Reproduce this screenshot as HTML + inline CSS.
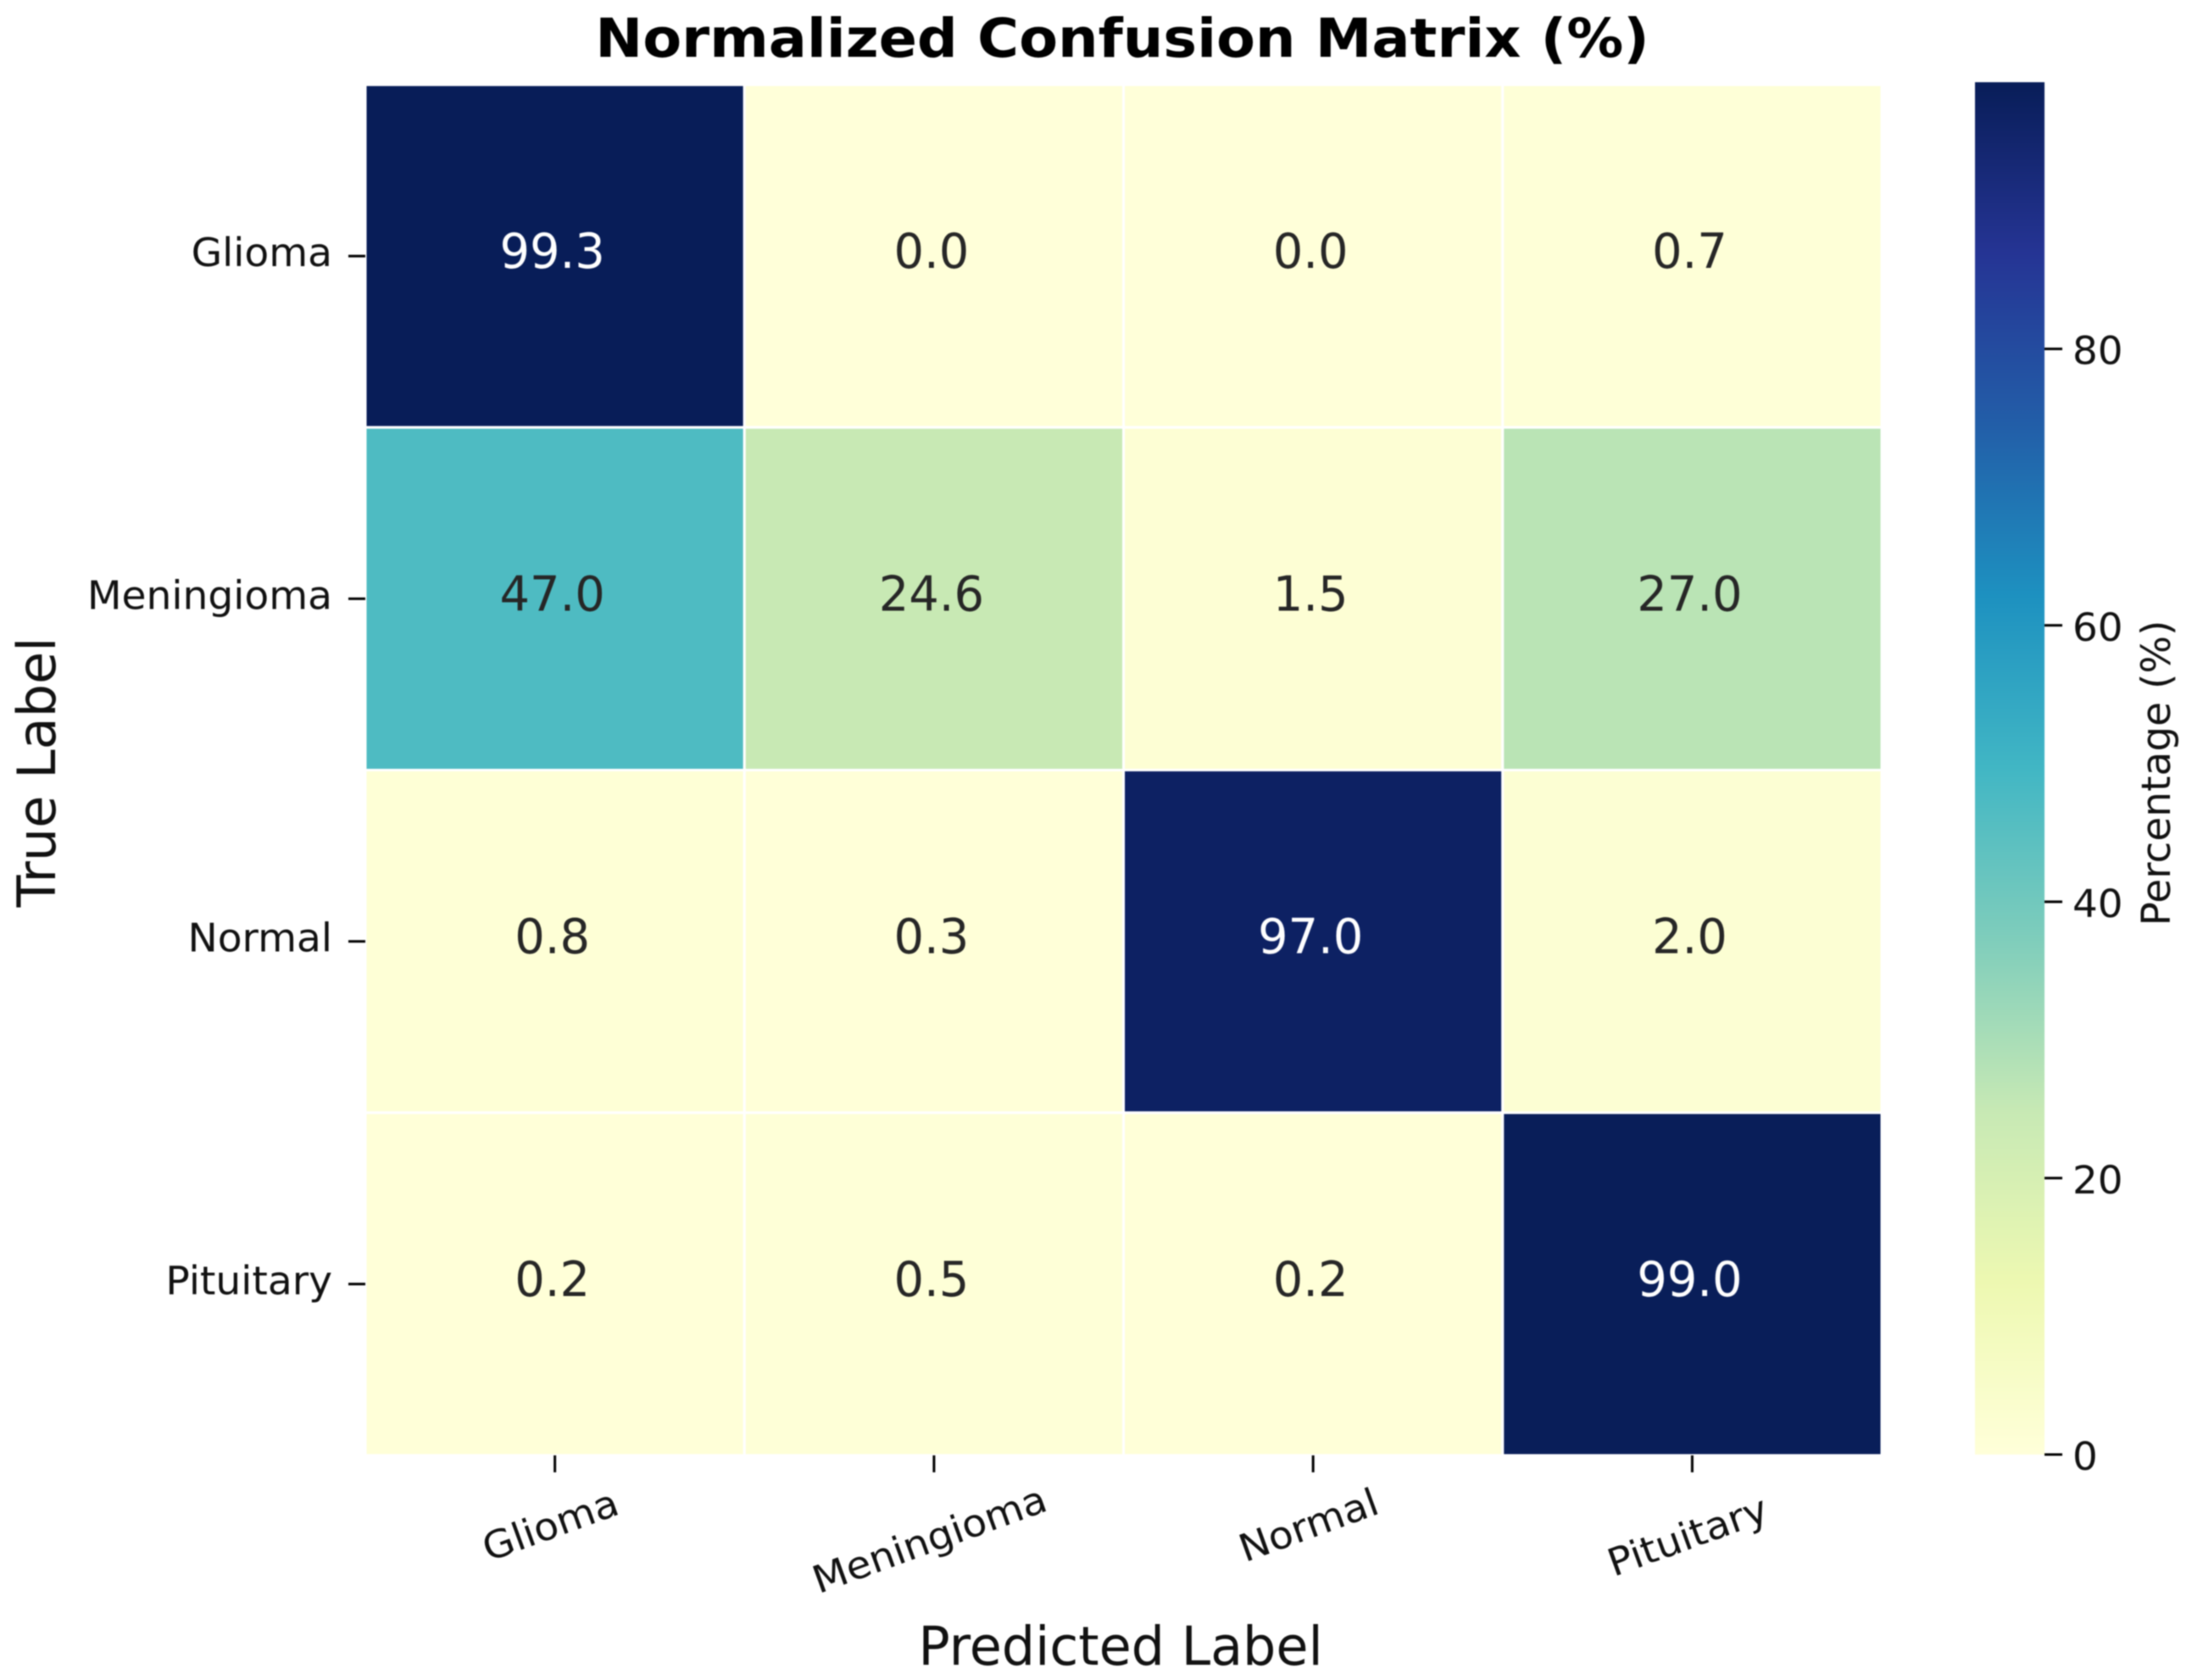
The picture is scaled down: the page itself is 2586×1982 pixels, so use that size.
<!DOCTYPE html>
<html lang="en">
<head>
<meta charset="utf-8">
<title>Normalized Confusion Matrix (%)</title>
<style>
html,body{margin:0;padding:0;background:#fff;width:2586px;height:1982px;overflow:hidden}
svg{display:block;filter:blur(0.7px)}
text{font-family:"DejaVu Sans","Liberation Sans",sans-serif}
</style>
</head>
<body>
<svg id="chart" xmlns="http://www.w3.org/2000/svg" width="2586" height="1982" viewBox="0 0 2586 1982">
<rect x="0" y="0" width="2586" height="1982" fill="#ffffff"/>
</svg>
<script>
const categories = ["Glioma", "Meningioma", "Normal", "Pituitary"];
const rowGlioma = [99.3, 0.0, 0.0, 0.7];
const rowMeningioma = [47.0, 24.6, 1.5, 27.0];
const rowNormal = [0.8, 0.3, 97.0, 2.0];
const rowPituitary = [0.2, 0.5, 0.2, 99.0];
const matrix = [rowGlioma, rowMeningioma, rowNormal, rowPituitary];
const colorbarTicks = [0, 20, 40, 60, 80];
const colormapStops = ["#ffffd9", "#edf8b1", "#c7e9b4", "#7fcdbb", "#41b6c4", "#1d91c0", "#225ea8", "#253494", "#081d58"];

const svg = document.getElementById("chart");
const NS = "http://www.w3.org/2000/svg";
const plot = { left: 431, right: 2220, top: 100, bottom: 1717 };
const bar = { left: 2330, right: 2412, top: 97, bottom: 1716 };
const allValues = matrix.flat();
const vmin = 0;
const vmax = Math.max.apply(null, allValues);

function xBand(i) { return plot.left + (plot.right - plot.left) * i / categories.length; }
function yBand(i) { return plot.top + (plot.bottom - plot.top) * i / categories.length; }
function barY(v) { return bar.bottom - (bar.bottom - bar.top) * (v - vmin) / (vmax - vmin); }
function hexToRgb(h) { return [1, 3, 5].map(function (p) { return parseInt(h.substr(p, 2), 16); }); }
function colorRgb(v) {
  const t = Math.min(1, Math.max(0, (v - vmin) / (vmax - vmin))) * (colormapStops.length - 1);
  const i = Math.min(colormapStops.length - 2, Math.floor(t));
  const a = hexToRgb(colormapStops[i]);
  const b = hexToRgb(colormapStops[i + 1]);
  return a.map(function (c, k) { return Math.round(c + (b[k] - c) * (t - i)); });
}
function colorOf(v) { return "rgb(" + colorRgb(v).join(",") + ")"; }
function luminance(rgb) {
  const c = rgb.map(function (x) { x /= 255; return x <= 0.03928 ? x / 12.92 : Math.pow((x + 0.055) / 1.055, 2.4); });
  return 0.2126 * c[0] + 0.7152 * c[1] + 0.0722 * c[2];
}
function make(tag, attrs, parent) {
  const el = document.createElementNS(NS, tag);
  Object.keys(attrs).forEach(function (k) { el.setAttribute(k, attrs[k]); });
  (parent || svg).appendChild(el);
  return el;
}
function label(str, x, y, size, opts) {
  const o = opts || {};
  const el = make("text", {
    transform: "translate(" + x + "," + y + ") rotate(" + (o.rot || 0) + ") scale(" + (o.sx || 1) + ",1)",
    "text-anchor": o.anchor || "middle",
    "font-size": size,
    "font-weight": o.weight || "normal",
    fill: o.fill || "#000000"
  });
  el.textContent = str;
  return el;
}

/* Colour gradient for the colour bar */
const defs = make("defs", {});
const gradient = make("linearGradient", { id: "ylgnbu", x1: 0, y1: 1, x2: 0, y2: 0 }, defs);
colormapStops.forEach(function (c, i) {
  make("stop", { offset: i / (colormapStops.length - 1), "stop-color": c }, gradient);
});

/* Heatmap cells and annotations */
matrix.forEach(function (row, r) {
  row.forEach(function (v, c) {
    const x = xBand(c), y = yBand(r), w = xBand(c + 1) - x, h = yBand(r + 1) - y;
    const cell = make("rect", { x: x, y: y, width: w, height: h, fill: colorOf(v), stroke: "#ffffff", "stroke-width": 3 });
    
    
    const light = luminance(colorRgb(v)) < 0.408;
    const note = label(v.toFixed(1), x + w / 2 - 3, y + h / 2 + 14, 57, { fill: light ? "#ffffff" : "#262626", sx: 0.98 });
    
    
  });
});

/* Y axis */
categories.forEach(function (name, i) {
  const y = (yBand(i) + yBand(i + 1)) / 2;
  const tick = make("line", { x1: plot.left - 20, x2: plot.left, y1: y, y2: y, stroke: "#000", "stroke-width": 3 });
  
  
  const t = label(name, plot.left - 39, y + 12, 46, { anchor: "end", fill: "#111", sx: 1.025 });
  
  
});

/* X axis */
categories.forEach(function (name, i) {
  const x = (xBand(i) + xBand(i + 1)) / 2;
  const tick = make("line", { x1: x, x2: x, y1: plot.bottom, y2: plot.bottom + 20, stroke: "#000", "stroke-width": 3 });
  
  
  const len = name.length;
  const t = label(name, x, plot.bottom + 97 + Math.max(0, len - 6) * 4.2, 45, { rot: -20, fill: "#111", sx: 1.05 });
  
  
});

/* Colour bar */
const cbar = make("rect", { x: bar.left, y: bar.top, width: bar.right - bar.left, height: bar.bottom - bar.top, fill: "url(#ylgnbu)" });


colorbarTicks.forEach(function (v) {
  const y = barY(v);
  const tick = make("line", { x1: bar.right, x2: bar.right + 21, y1: y, y2: y, stroke: "#000", "stroke-width": 3 });
  
  
  const t = label(String(v), bar.right + 33, y + 18, 45, { anchor: "start", fill: "#111", sx: 1.04 });
  
  
});

/* Titles */
const title = label("Normalized Confusion Matrix (%)", 1324, 67, 63.5, { weight: "bold", sx: 1.053 });


const xTitle = label("Predicted Label", 1322, 1964, 63.5, { fill: "#111", sx: 0.975 });


const yTitle = label("True Label", 65, 911, 62, { rot: -90, fill: "#111" });


const barTitle = label("Percentage (%)", 2560, 912, 47, { rot: -90, fill: "#111" });


</script>
</body>
</html>
